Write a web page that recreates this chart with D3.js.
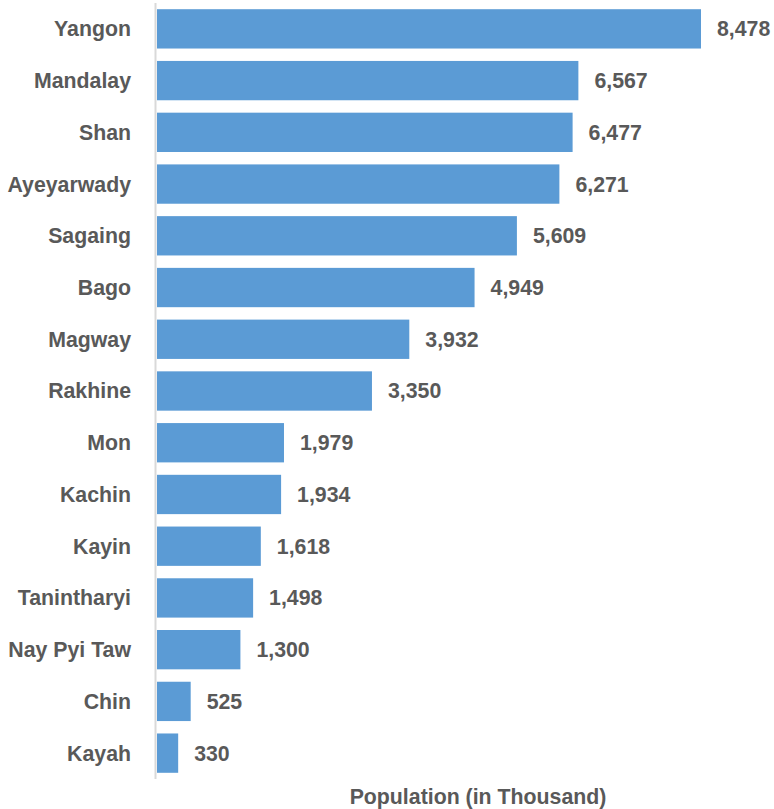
<!DOCTYPE html>
<html>
<head>
<meta charset="utf-8">
<script src="https://cdn.jsdelivr.net/npm/d3@7"></script>
<style>
  html, body { margin: 0; padding: 0; background: #fff; }
  svg { display: block; }
  text { font-family: "Liberation Sans", Arial, sans-serif; font-weight: bold; fill: #595959; }
</style>
</head>
<body>
<svg id="chart" width="774" height="809"></svg>
<script>
// Population by state/region, thousands
const regions = ["Yangon", "Mandalay", "Shan", "Ayeyarwady", "Sagaing", "Bago", "Magway",
  "Rakhine", "Mon", "Kachin", "Kayin", "Tanintharyi", "Nay Pyi Taw", "Chin", "Kayah"];
const population = [8478, 6567, 6477, 6271, 5609, 4949, 3932, 3350, 1979, 1934, 1618, 1498, 1300, 525, 330];
const axisTitle = "Population (in Thousand)";

const svg = d3.select("#chart");
const data = regions.map((r, i) => ({ region: r, value: population[i] }));
const fontSize = "21.3px";

const x = d3.scaleLinear().domain([0, 9000]).range([157, 157 + 544 * 9000 / 8478]);
const y = d3.scaleBand().domain(regions).range([3, 779]).paddingInner(0.24).paddingOuter(0.12);

// bars
svg.append("g").selectAll("rect").data(data).join("rect")
  .attr("x", x(0))
  .attr("y", d => y(d.region))
  .attr("width", d => x(d.value) - x(0))
  .attr("height", y.bandwidth())
  .attr("fill", "#5b9bd5");

// vertical axis line
svg.append("line")
  .attr("x1", 155.5).attr("x2", 155.5)
  .attr("y1", 3).attr("y2", 779)
  .attr("stroke", "#d9d9d9").attr("stroke-width", 2);

// category labels
svg.append("g").selectAll("text").data(data).join("text")
  .attr("x", 131)
  .attr("y", d => y(d.region) + y.bandwidth() / 2)
  .attr("dy", "0.35em")
  .attr("text-anchor", "end")
  .style("font-size", fontSize)
  .text(d => d.region);

// value labels
const fmt = d3.format(",");
svg.append("g").selectAll("text").data(data).join("text")
  .attr("x", d => x(d.value) + 16)
  .attr("y", d => y(d.region) + y.bandwidth() / 2)
  .attr("dy", "0.35em")
  .style("font-size", fontSize)
  .text(d => fmt(d.value));

// axis title
svg.append("text")
  .attr("x", 478)
  .attr("y", 804)
  .attr("text-anchor", "middle")
  .style("font-size", fontSize)
  .text(axisTitle);
</script>
</body>
</html>
